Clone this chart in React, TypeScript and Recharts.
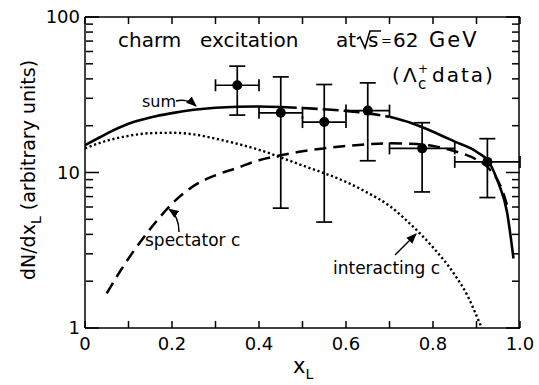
import { ComposedChart, Line, Scatter, ErrorBar, XAxis, YAxis } from 'recharts';

// sum curve (solid, printed dashed between ~0.45 and 0.7)
const sumX = [0, 0.03, 0.05, 0.1, 0.15, 0.2, 0.25, 0.3, 0.35, 0.4, 0.45, 0.5, 0.55, 0.6, 0.65, 0.7, 0.75, 0.8, 0.85, 0.9, 0.93, 0.95, 0.97, 0.985];
const sumY = [15.0, 16.6, 17.8, 20.6, 22.6, 24.1, 25.3, 26.1, 26.5, 26.6, 26.4, 26.0, 25.5, 24.9, 24.0, 22.8, 20.8, 18.3, 15.8, 13.6, 11.5, 8.6, 5.6, 2.8];

// spectator c (dashed)
const specX = [0.05, 0.08, 0.12, 0.16, 0.2, 0.25, 0.3, 0.35, 0.4, 0.45, 0.5, 0.55, 0.6, 0.65, 0.7, 0.75, 0.8, 0.85, 0.9, 0.93, 0.96, 0.97];
const specY = [1.67, 2.3, 3.36, 4.7, 6.3, 8.2, 9.6, 10.7, 12.0, 12.9, 13.7, 14.3, 14.8, 15.2, 15.4, 15.3, 14.8, 13.7, 12.1, 10.5, 7.6, 6.2];

// interacting c (dotted)
const intX = [0, 0.05, 0.1, 0.15, 0.2, 0.25, 0.3, 0.35, 0.4, 0.45, 0.5, 0.55, 0.6, 0.65, 0.7, 0.75, 0.8, 0.85, 0.88, 0.9, 0.912];
const intY = [14.3, 16.0, 17.2, 17.9, 18.0, 17.6, 16.5, 15.3, 14.0, 12.5, 11.1, 9.9, 8.7, 7.4, 6.1, 4.6, 3.3, 2.2, 1.6, 1.2, 1.0];

// Lambda_c data points
const ptX = [0.35, 0.45, 0.55, 0.65, 0.775, 0.925];
const ptY = [36.4, 24.2, 21.1, 25.0, 14.3, 11.7];
const ptYLo = [23.4, 5.9, 4.8, 11.9, 7.5, 6.9];
const ptYHi = [48.3, 41.2, 36.8, 37.7, 20.9, 16.5];
const ptXLo = [0.3, 0.4, 0.5, 0.6, 0.7, 0.85];
const ptXHi = [0.4, 0.5, 0.6, 0.7, 0.85, 1.0];

const xTicks = [0, 0.2, 0.4, 0.6, 0.8, 1.0];
const xMinorTicks = [0, 0.1, 0.2, 0.3, 0.4, 0.5, 0.6, 0.7, 0.8, 0.9, 1.0];
const yTicks = [1, 10, 100];
const yMinorTicks = [2, 3, 4, 5, 6, 7, 8, 9, 20, 30, 40, 50, 60, 70, 80, 90];

const toXY = (xs: number[], ys: number[]) => xs.map((x, i) => ({ x, y: ys[i] }));
const sumData = toXY(sumX, sumY);
const sumA = sumData.filter(d => d.x <= 0.45);
const sumB = sumData.filter(d => d.x >= 0.45 && d.x <= 0.7);
const sumC = sumData.filter(d => d.x >= 0.7);
const specData = toXY(specX, specY);
const intData = toXY(intX, intY);
const points = ptX.map((x, i) => ({
  x,
  y: ptY[i],
  ey: [ptY[i] - ptYLo[i], ptYHi[i] - ptY[i]],
  ex: [x - ptXLo[i], ptXHi[i] - x],
}));

const FONT = '"DejaVu Sans", sans-serif';
const tickStyle = { fill: '#000', fontSize: 18, fontFamily: FONT };
const ink = { stroke: '#000', strokeWidth: 1.5 };
const noLabel = () => <g />;

// invisible series so the frame/tick axes get a scale
const axisPairs = [
  ['top', 'lMinor'],
  ['top', 'rMinor'],
  ['bMinor', 'lMajor'],
  ['bMinor', 'rMajor'],
];

export default function App() {
  return (
    <div style={{ position: 'absolute', left: 0, top: 0, width: 539, height: 385, background: '#fff' }}>
      <ComposedChart width={539} height={385} margin={{ top: 17, right: 19, left: 0, bottom: 0 }}>
        <XAxis
          dataKey="x" type="number" domain={[0, 1]} ticks={xTicks} interval={0} allowDataOverflow
          height={57} tickLine={false} tickSize={0} tickMargin={9} tick={tickStyle}
          tickFormatter={(v: number) => (v === 0 ? '0' : v.toFixed(1))}
          axisLine={ink}
        />
        <XAxis xAxisId="bMinor" dataKey="x" type="number" domain={[0, 1]} ticks={xMinorTicks} interval={0} mirror height={1}
          tick={noLabel} axisLine={false} tickSize={7} tickLine={ink} />
        <XAxis xAxisId="top" dataKey="x" orientation="top" type="number" domain={[0, 1]} ticks={xMinorTicks} interval={0} mirror height={1}
          tick={noLabel} tickSize={7} tickLine={ink} axisLine={ink} />

        <YAxis
          dataKey="y" scale="log" type="number" domain={[1, 100]} ticks={yTicks} interval={0} allowDataOverflow
          width={85} tickLine={false} tickSize={0} tickMargin={5} tick={tickStyle}
          axisLine={ink}
        />
        <YAxis yAxisId="lMinor" dataKey="y" scale="log" type="number" domain={[1, 100]} ticks={yMinorTicks} interval={0} mirror width={1}
          tick={noLabel} axisLine={false} tickSize={7} tickLine={ink} />
        <YAxis yAxisId="lMajor" dataKey="y" scale="log" type="number" domain={[1, 100]} ticks={yTicks} interval={0} mirror width={1}
          tick={noLabel} axisLine={false} tickSize={14} tickLine={ink} />
        <YAxis yAxisId="rMinor" dataKey="y" orientation="right" scale="log" type="number" domain={[1, 100]} ticks={yMinorTicks} interval={0} mirror width={1}
          tick={noLabel} tickSize={7} tickLine={ink} axisLine={ink} />
        <YAxis yAxisId="rMajor" dataKey="y" orientation="right" scale="log" type="number" domain={[1, 100]} ticks={yTicks} interval={0} mirror width={1}
          tick={noLabel} axisLine={false} tickSize={14} tickLine={ink} />

        {axisPairs.map(([xa, ya]) => (
          <Line key={xa + ya} xAxisId={xa} yAxisId={ya} data={sumData} dataKey="y" stroke="none"
            dot={false} activeDot={false} isAnimationActive={false} />
        ))}

        <Line data={intData} dataKey="y" type="monotone" stroke="#000" strokeWidth={2.4} strokeDasharray="2.2 2.6"
          dot={false} activeDot={false} isAnimationActive={false} />
        <Line data={specData} dataKey="y" type="monotone" stroke="#000" strokeWidth={2.5} strokeDasharray="12 7"
          dot={false} activeDot={false} isAnimationActive={false} />
        <Line data={sumA} dataKey="y" type="monotone" stroke="#000" strokeWidth={2.6}
          dot={false} activeDot={false} isAnimationActive={false} />
        <Line data={sumB} dataKey="y" type="monotone" stroke="#000" strokeWidth={2.6} strokeDasharray="16 5"
          dot={false} activeDot={false} isAnimationActive={false} />
        <Line data={sumC} dataKey="y" type="monotone" stroke="#000" strokeWidth={2.6}
          dot={false} activeDot={false} isAnimationActive={false} />

        <Scatter data={points} dataKey="y" isAnimationActive={false} fill="#000"
          shape={(p: any) => <circle cx={p.cx} cy={p.cy} r={5} fill="#000" />}>
          <ErrorBar dataKey="ey" direction="y" width={8} stroke="#000" strokeWidth={1.7} />
          <ErrorBar dataKey="ex" direction="x" width={6} stroke="#000" strokeWidth={1.7} />
        </Scatter>
      </ComposedChart>

      <svg width={539} height={385} style={{ position: 'absolute', left: 0, top: 0, pointerEvents: 'none' }}
        fontFamily={FONT} fill="#000">
        <defs>
          <marker id="ah" viewBox="0 0 10 10" refX="9" refY="5" markerWidth="7" markerHeight="7" orient="auto-start-reverse">
            <path d="M0,1 L10,5 L0,9 z" fill="#000" />
          </marker>
        </defs>

        {/* title */}
        <g fontSize={20}>
          <text x={118} y={47}>charm</text>
          <text x={200} y={47}>excitation</text>
          <text x={336} y={47}>at</text>
          <path d="M357,39 L360,37 L365,48 L370,31 L381,31" stroke="#000" strokeWidth={1.6} fill="none" />
          <text x={368} y={47}>s</text>
          <text x={381} y={45} fontSize={13}>=</text>
          <text x={393} y={47}>62</text>
          <text x={429} y={47} fontSize={21} letterSpacing={2}>GeV</text>
        </g>
        <g fontSize={20}>
          <text x={392} y={82}>(</text>
          <text x={403} y={82}>Λ</text>
          <text x={418} y={73} fontSize={12}>+</text>
          <text x={418} y={89} fontSize={15}>c</text>
          <text x={432} y={82} letterSpacing={2}>data)</text>
        </g>

        {/* axis titles */}
        <text transform="translate(35,170) rotate(-90)" textAnchor="middle" fontSize={19}>
          dN/dx<tspan dy={6} fontSize={14}>L</tspan><tspan dy={-6}>{' (arbitrary units)'}</tspan>
        </text>
        <text x={293} y={373} fontSize={21}>x<tspan dy={6} fontSize={14}>L</tspan></text>

        {/* curve labels */}
        <text x={142} y={107} fontSize={16}>sum</text>
        <path d="M176,101 Q187,98 196,106" stroke="#000" strokeWidth={1.5} fill="none" markerEnd="url(#ah)" />
        <text x={145} y={246} fontSize={17}>spectator c</text>
        <path d="M179,232 Q179,216 169,209" stroke="#000" strokeWidth={1.5} fill="none" markerEnd="url(#ah)" />
        <text x={333} y={274} fontSize={17}>interacting c</text>
        <path d="M395,255 L416,234" stroke="#000" strokeWidth={1.5} fill="none" markerEnd="url(#ah)" />
      </svg>
    </div>
  );
}
